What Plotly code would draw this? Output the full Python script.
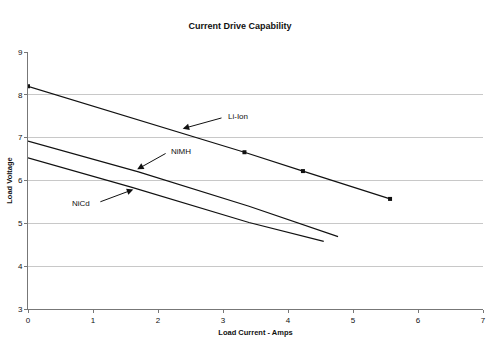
import plotly.graph_objects as go

# Data
li_x = [0, 3.33, 4.23, 5.57]
li_y = [8.2, 6.66, 6.22, 5.57]
nimh_x = [0, 1.7, 3.4, 4.77]
nimh_y = [6.92, 6.2, 5.4, 4.69]
nicd_x = [0, 1.6, 3.4, 4.55]
nicd_y = [6.53, 5.84, 5.02, 4.58]

x_ticks = [0, 1, 2, 3, 4, 5, 6, 7]
y_ticks = [3, 4, 5, 6, 7, 8, 9]

# label, arrow tip (x,y), arrow tail (x,y), text pos (x,y), text anchor
labels = [
    ("Li-Ion", (2.38, 7.21), (3.0, 7.47), (3.04, 7.49), "left"),
    ("NiMH", (1.68, 6.26), (2.14, 6.65), (2.17, 6.67), "left"),
    ("NiCd", (1.62, 5.79), (1.09, 5.49), (0.99, 5.47), "right"),
]

FONT = "Liberation Sans, Arial, sans-serif"

fig = go.Figure()
fig.add_trace(go.Scatter(x=li_x, y=li_y, mode="lines+markers",
                         line=dict(color="#111", width=1.2),
                         marker=dict(symbol="square", size=4, color="#111")))
fig.add_trace(go.Scatter(x=nimh_x, y=nimh_y, mode="lines",
                         line=dict(color="#111", width=1.2)))
fig.add_trace(go.Scatter(x=nicd_x, y=nicd_y, mode="lines",
                         line=dict(color="#111", width=1.2)))

for name, tip, tail, tpos, anchor in labels:
    fig.add_annotation(x=tip[0], y=tip[1], ax=tail[0], ay=tail[1],
                       xref="x", yref="y", axref="x", ayref="y",
                       text="", showarrow=True, arrowhead=2, arrowsize=1.3,
                       arrowwidth=1, arrowcolor="#111")
    fig.add_annotation(x=tpos[0], y=tpos[1], xref="x", yref="y",
                       text=name, showarrow=False, xanchor=anchor, yanchor="middle",
                       font=dict(family=FONT, size=8, color="#111"))

fig.update_layout(
    width=500, height=349,
    margin=dict(l=28, r=17, t=52, b=40),
    paper_bgcolor="white", plot_bgcolor="white",
    showlegend=False,
    title=dict(text="<b>Current Drive Capability</b>", x=0.48, xanchor="center",
               y=0.925, yanchor="middle",
               font=dict(family=FONT, size=9, color="#111")),
    font=dict(family=FONT, size=8, color="#111"),
)
fig.update_xaxes(range=[0, 7], tickvals=x_ticks, showgrid=False, zeroline=False,
                 automargin=False,
                 showline=True, linecolor="#777", linewidth=1,
                 ticks="outside", ticklen=3, tickcolor="#777",
                 title=dict(text="<b>Load Current - Amps</b>", standoff=6,
                            font=dict(family=FONT, size=7.5, color="#111")),
                 tickfont=dict(family=FONT, size=8, color="#111"))
fig.update_yaxes(range=[3, 9], tickvals=y_ticks, showgrid=True, gridcolor="#c8c8c8",
                 gridwidth=1, zeroline=False, automargin=False,
                 showline=True, linecolor="#777", linewidth=1,
                 ticks="outside", ticklen=3, tickcolor="#777",
                 title=dict(text="<b>Load Voltage</b>", standoff=4,
                            font=dict(family=FONT, size=7.5, color="#111")),
                 tickfont=dict(family=FONT, size=8, color="#111"))

fig.write_html("out.html")
